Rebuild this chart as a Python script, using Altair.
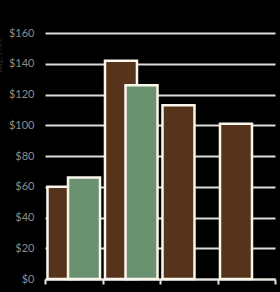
import altair as alt
import pandas as pd

quarters = ["Q1", "Q2", "Q3", "Q4"]
series_names = ["Series A", "Series B"]
series_a = [60, 142, 113, 101]
series_b = [66, 126, None, None]
y_ticks = [0, 20, 40, 60, 80, 100, 120, 140, 160]
colors = ["#56341c", "#6b9270"]

rows = []
for name, vals in zip(series_names, [series_a, series_b]):
    for q, v in zip(quarters, vals):
        if v is not None:
            rows.append({"quarter": q, "series": name, "value": v})
df = pd.DataFrame(rows)

chart = alt.Chart(df).mark_bar(
    width=32, stroke="#fbf6ec", strokeWidth=2.5
).encode(
    x=alt.X("quarter:N", sort=quarters,
            scale=alt.Scale(paddingInner=0, paddingOuter=0),
            axis=alt.Axis(title=None, labelAngle=0, tickBand="extent",
                          domainColor="#e8e4dc", domainWidth=2,
                          tickColor="#e8e4dc", tickWidth=2, tickSize=5,
                          labelColor="#8a8a8a", labelFont="Lato",
                          labelFontSize=12, labelFontWeight="bold",
                          labelPadding=6, grid=False)),
    xOffset=alt.XOffset("series:N", sort=series_names,
                        scale=alt.Scale(paddingOuter=0.4, paddingInner=0)),
    y=alt.Y("value:Q", scale=alt.Scale(domain=[0, 160]),
            axis=alt.Axis(values=y_ticks, format="$,.0f", title="Avg. Price",
                          titleColor="#2a2a2a", titleFont="Lato",
                          titleFontSize=8, titleFontWeight="normal",
                          titleX=-42, titleY=4, titleAlign="right",
                          titleAngle=-90,
                          labelColor="#8c8c8c", labelFont="Lato",
                          labelFontSize=11, labelPadding=11,
                          ticks=False, domain=False,
                          gridColor="#dcdcdc", gridWidth=2)),
    color=alt.Color("series:N", sort=series_names,
                    scale=alt.Scale(domain=series_names, range=colors),
                    legend=None),
).properties(
    width=230, height=246,
    autosize=alt.AutoSizeParams(type="none"),
    padding={"left": 45, "top": 33, "right": 5, "bottom": 13},
    background="#000000",
).configure_view(stroke=None)

chart.save("out.html", embed_options={"renderer": "svg", "actions": False})
